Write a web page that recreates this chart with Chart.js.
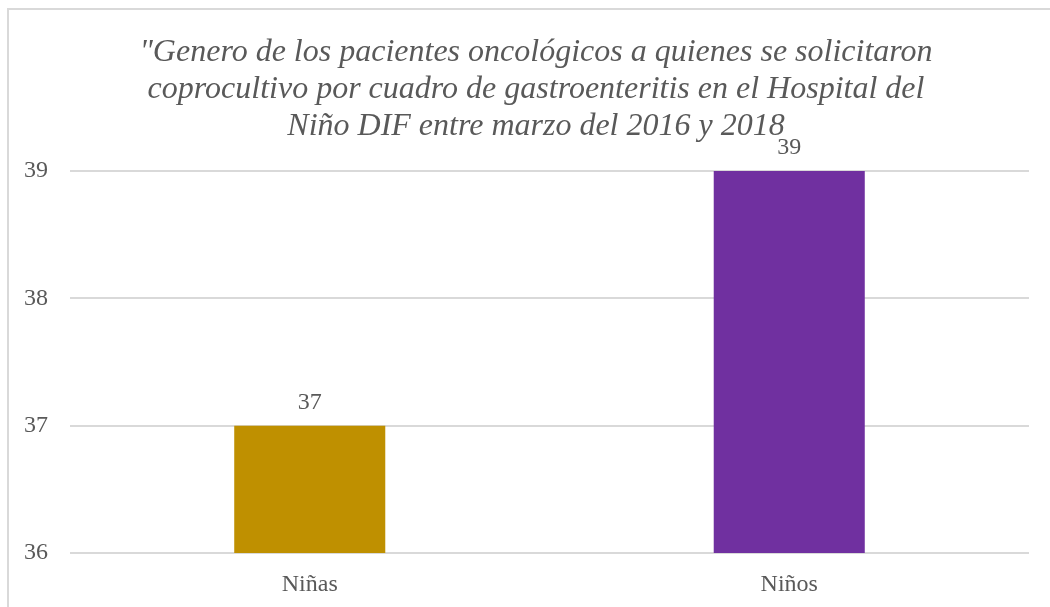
<!DOCTYPE html>
<html>
<head>
<meta charset="utf-8">
<script src="https://cdn.jsdelivr.net/npm/chart.js@4/dist/chart.umd.min.js"></script>
<style>
  html, body { margin: 0; padding: 0; background: #fff; overflow: hidden; }
  #frame { position: absolute; left: 7px; top: 8px; width: 1100px; height: 700px;
           border: 2px solid #d9d9d9; box-sizing: border-box; }
  #wrap { position: absolute; left: 0; top: 0; width: 1050px; height: 607px; }
</style>
</head>
<body>
<div id="frame"></div>
<div id="wrap"><canvas id="chart"></canvas></div>
<script>
const categories = ['Niñas', 'Niños'];
const values = [37, 39];
const barColors = ['#BF9000', '#7030A0'];
const titleLines = [
  '"Genero de los pacientes oncológicos a quienes se solicitaron',
  'coprocultivo por cuadro de gastroenteritis en el Hospital del',
  'Niño DIF entre marzo del 2016 y 2018'
];
const yMin = 36, yMax = 39;

const TEXT = '#595959';
const GRID = '#d9d9d9';
const SERIF = '"Liberation Serif", "Times New Roman", serif';

// centred multi-line italic heading, placed over the whole chart frame
const heading = {
  id: 'heading',
  afterDraw(chart) {
    const ctx = chart.ctx;
    const size = 32, lh = size * 1.16, top = 34, cx = 536;
    ctx.save();
    ctx.font = 'italic ' + size + 'px ' + SERIF;
    ctx.fillStyle = TEXT;
    ctx.textAlign = 'center';
    ctx.textBaseline = 'middle';
    titleLines.forEach((line, i) => {
      ctx.fillText(line, cx, top + lh / 2 + i * lh);
    });
    ctx.restore();
  }
};

// value labels above each bar
const valueLabels = {
  id: 'valueLabels',
  afterDatasetsDraw(chart) {
    const ctx = chart.ctx;
    const meta = chart.getDatasetMeta(0);
    ctx.save();
    ctx.font = '24px ' + SERIF;
    ctx.fillStyle = TEXT;
    ctx.textAlign = 'center';
    ctx.textBaseline = 'alphabetic';
    meta.data.forEach((bar, i) => {
      ctx.fillText(String(values[i]), bar.x, bar.y - 17);
    });
    ctx.restore();
  }
};

new Chart(document.getElementById('chart'), {
  type: 'bar',
  data: {
    labels: categories,
    datasets: [{
      data: values,
      backgroundColor: barColors,
      borderWidth: 0,
      categoryPercentage: 1,
      barPercentage: 0.315
    }]
  },
  options: {
    responsive: true,
    maintainAspectRatio: false,
    animation: false,
    devicePixelRatio: 1,
    layout: { padding: { left: 0, right: 21, top: 171, bottom: 0 } },
    plugins: {
      legend: { display: false },
      tooltip: { enabled: false },
      title: { display: false }
    },
    scales: {
      x: {
        grid: { display: false, drawTicks: false },
        border: { display: false },
        ticks: { color: TEXT, font: { family: SERIF, size: 24 }, padding: 17 },
        afterFit(scale) { scale.height = 54; }
      },
      y: {
        min: yMin,
        max: yMax,
        grid: { color: GRID, lineWidth: 2, drawTicks: false },
        border: { display: false },
        ticks: { stepSize: 1, color: TEXT, font: { family: SERIF, size: 24 }, padding: 22 },
        afterFit(scale) { scale.width = 70; }
      }
    }
  },
  plugins: [valueLabels, heading]
});
</script>
</body>
</html>
